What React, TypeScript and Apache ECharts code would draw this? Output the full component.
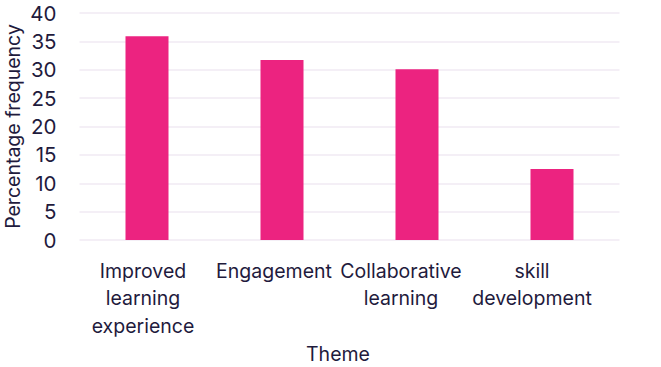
import React, { useEffect, useRef } from "react";
import * as echarts from "echarts";

const categories = [
  "Improved\nlearning\nexperience",
  "Engagement",
  "Collaborative\nlearning",
  "skill\ndevelopment",
];
const values = [35.9, 31.7, 30.1, 12.5];
const labelShift = [8, 16, 32, 40];
const yTicks = { min: 0, max: 40, interval: 5 };
const xTitle = "Theme";
const yTitle = "Percentage frequency";

const textColor = "#1F1B3D";
const font = "Inter, 'Noto Sans', sans-serif";

export default function App() {
  const ref = useRef<HTMLDivElement>(null);
  useEffect(() => {
    if (!ref.current) return;
    const chart = echarts.init(ref.current, null, { renderer: "svg" });
    chart.setOption({
      animation: false,
      backgroundColor: "#ffffff",
      grid: {
        left: 79.5,
        right: 41.5,
        top: 13,
        bottom: 127,
        containLabel: false,
        outerBoundsMode: "none",
      },
      xAxis: {
        type: "category",
        data: categories.map((c, i) => ({
          value: c,
          textStyle: { padding: [0, labelShift[i], 0, 0] },
        })),
        axisLine: { show: false },
        axisTick: { show: false },
        axisLabel: {
          color: textColor,
          fontFamily: font,
          fontSize: 19.5,
          lineHeight: 27.5,
          margin: 17,
          interval: 0,
        },
        name: xTitle,
        nameLocation: "middle",
        nameGap: 104,
        nameMoveOverlap: false,
        nameTextStyle: {
          color: textColor,
          fontFamily: font,
          fontSize: 19.5,
          padding: [0, 23, 0, 0],
        },
      },
      yAxis: {
        type: "value",
        min: yTicks.min,
        max: yTicks.max,
        interval: yTicks.interval,
        axisLine: { show: false },
        axisTick: { show: false },
        splitLine: { lineStyle: { color: "#F1EAF3", width: 1.5 } },
        axisLabel: {
          color: textColor,
          fontFamily: font,
          fontSize: 20.5,
          margin: 23,
        },
        name: yTitle,
        nameLocation: "middle",
        nameGap: 57,
        nameMoveOverlap: false,
        nameTextStyle: { color: textColor, fontFamily: font, fontSize: 19.5 },
      },
      series: [
        {
          type: "bar",
          data: values,
          barWidth: 43,
          itemStyle: { color: "#EC2380" },
        },
      ],
    });
    return () => chart.dispose();
  }, []);
  return (
    <div
      ref={ref}
      style={{ position: "absolute", left: 0, top: 0, width: 661, height: 367 }}
    />
  );
}
